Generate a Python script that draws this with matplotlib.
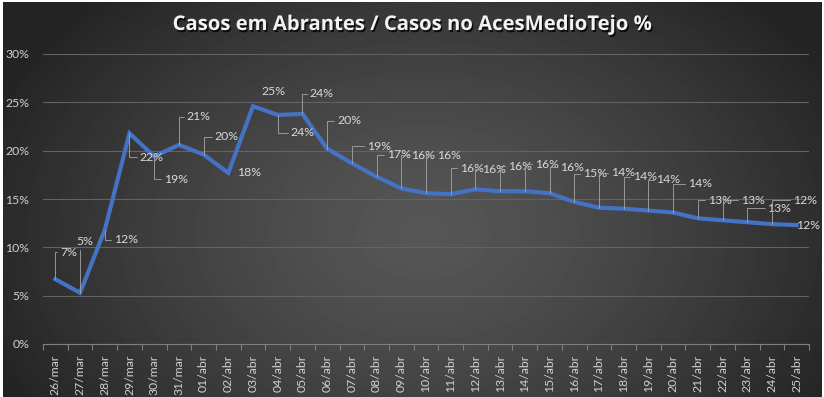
import numpy as np
import matplotlib.pyplot as plt
from matplotlib import patheffects

# dados: percentagem de casos de Abrantes no total do ACES Medio Tejo
dates = ['26/mar', '27/mar', '28/mar', '29/mar', '30/mar', '31/mar',
         '01/abr', '02/abr', '03/abr', '04/abr', '05/abr', '06/abr', '07/abr',
         '08/abr', '09/abr', '10/abr', '11/abr', '12/abr', '13/abr', '14/abr',
         '15/abr', '16/abr', '17/abr', '18/abr', '19/abr', '20/abr', '21/abr',
         '22/abr', '23/abr', '24/abr', '25/abr']
values = [6.7, 5.3, 11.8, 21.8, 19.4, 20.6, 19.6, 17.7, 24.6, 23.7, 23.8,
          20.2, 18.7, 17.3, 16.1, 15.6, 15.5, 16.0, 15.8, 15.8, 15.6, 14.7,
          14.1, 14.0, 13.8, 13.6, 13.0, 12.8, 12.6, 12.4, 12.3]
yticks = [0, 5, 10, 15, 20, 25, 30]

# posicao das etiquetas (pixels, relativo ao ponto) e se leva linha de chamada
offsets = [(13, 27), (5, 51), (21, -10), (22, -24), (22, -23), (20, 28),
           (23, 18), (21, 0), (20, 15), (25, -18), (19, 20), (22, 28),
           (27, 17), (22, 22), (22, 33), (23, 38), (21, 26), (19, 20),
           (20, 25), (22, 27), (22, 26), (21, 28), (24, 35), (21, 32),
           (20, 31), (27, 29), (22, 18), (30, 20), (32, 14), (33, 24), (11, 0)]
no_leader = {7, 8, 30}

W, H = 824, 397
fig = plt.figure(figsize=(W / 100, H / 100), dpi=100, facecolor='white')

# fundo em gradiente (estilo Excel)
bg = fig.add_axes([3 / W, 0, 819 / W, 395 / H], zorder=0)
yy, xx = np.mgrid[0:395, 0:819]
d = np.sqrt(((xx - 420) / 470.0) ** 2 + ((yy - 230) / 330.0) ** 2)
grad = 0.34 - 0.2 * np.clip(d, 0, 1) ** 1.3
bg.imshow(grad, cmap='gray', vmin=0, vmax=1, aspect='auto', interpolation='bilinear')
bg.axis('off')

ax = fig.add_axes([43 / W, 53 / H, 766 / W, 290 / H], zorder=1)
ax.patch.set_alpha(0)
x = np.arange(len(dates))

ax.plot(x, values, color='#4472C4', lw=3, solid_joinstyle='miter', zorder=3)

for i, v in enumerate(values):
    dx, dy = offsets[i]
    props = None
    if i not in no_leader:
        props = dict(arrowstyle='-', color='#a6a6a6', lw=0.6, shrinkA=0, shrinkB=0,
                     relpos=(0, 0.5), connectionstyle='angle,angleA=0,angleB=90,rad=0')
    ax.annotate('{:.0f}%'.format(v), (i, v), xytext=(dx, dy), textcoords='offset pixels',
                ha='center', va='center', fontsize=8.8, family='Lato', color='#d9d9d9',
                arrowprops=props, zorder=4)

ax.set_xlim(-0.5, len(dates) - 0.5)
ax.set_ylim(0, 30)
ax.set_yticks(yticks)
ax.set_yticklabels(['{}%'.format(t) for t in yticks])
ax.set_xticks(x)
ax.set_xticklabels(dates, rotation=90)
ax.set_xticks(np.arange(len(dates) + 1) - 0.5, minor=True)
ax.tick_params(axis='x', which='major', length=0, pad=8, labelsize=8.8, labelcolor='#d0d0d0')
ax.tick_params(axis='x', which='minor', length=4, color='#7f7f7f', width=0.8)
ax.tick_params(axis='y', length=0, pad=10, labelsize=8.8, labelcolor='#d0d0d0')
for lab in ax.get_xticklabels() + ax.get_yticklabels():
    lab.set_family('Lato')

ax.grid(axis='y', color='#636363', lw=0.8)
ax.set_axisbelow(True)
for s in ['top', 'right', 'left']:
    ax.spines[s].set_visible(False)
ax.spines['bottom'].set_color('#7f7f7f')
ax.spines['bottom'].set_linewidth(0.8)

fig.text(0.5, 1 - 25 / H, 'Casos em Abrantes / Casos no AcesMedioTejo %', ha='center', va='center',
         fontsize=14.6, fontweight='bold', family='Open Sans', color='#f2f2f2',
         path_effects=[patheffects.withSimplePatchShadow(offset=(1, -1.5), shadow_rgbFace='black', alpha=0.8)])

fig.savefig('out.png', dpi=100)
